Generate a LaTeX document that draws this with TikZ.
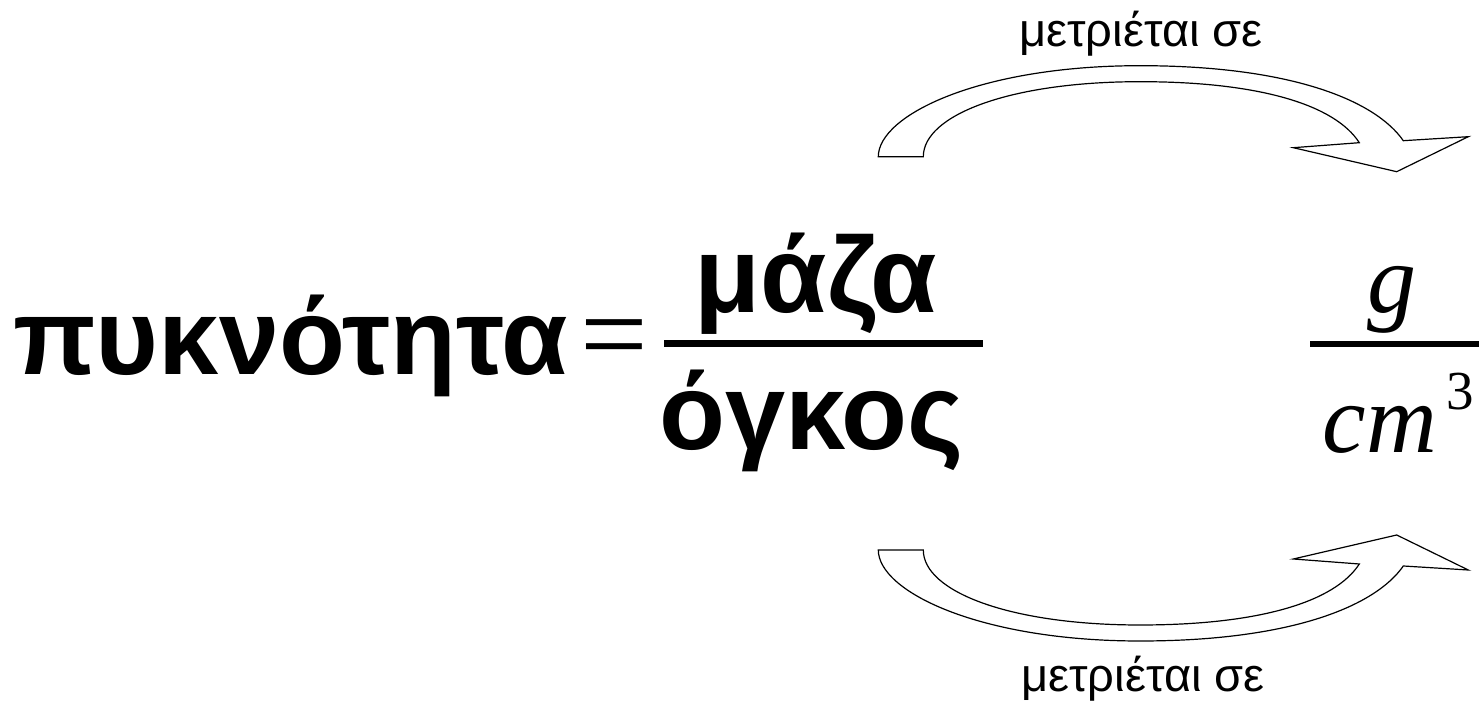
\documentclass[tikz,border=0pt]{standalone}
\usepackage{fontspec}
\setmainfont{Liberation Serif}
\newfontfamily\gsans{Liberation Sans}
\tikzset{
  bigword/.style={font=\gsans\bfseries\fontsize{54}{60}\selectfont, inner sep=0pt, anchor=base},
  eqsign/.style={font=\fontsize{60}{66}\selectfont, inner sep=0pt, anchor=base},
  measlabel/.style={font=\gsans\fontsize{23.5}{28}\selectfont, inner sep=0pt, anchor=base},
  unitvar/.style={font=\itshape\fontsize{49}{54}\selectfont, inner sep=0pt, anchor=base},
  unitexp/.style={font=\fontsize{27.5}{30}\selectfont, inner sep=0pt, anchor=base},
  fracbar/.style={line width=3.3pt},
  blockarrow/.style={draw=black, line width=0.6pt, fill=white, line join=miter}
}
\begin{document}
\begin{tikzpicture}[x=0.5pt,y=-0.5pt]
\useasboundingbox (0,0) rectangle (1479,704);
\fill[white] (0,0) rectangle (1479,704);
% upper bent arrow
\path[blockarrow] (878.3,156.7)
  .. controls (878.3,115) and (980,65.7) .. (1140,65.7)
  .. controls (1290,65.7) and (1375,100) .. (1403.3,140.7)
  -- (1468.3,136.7) -- (1396.7,171.7) -- (1293.3,147.7) -- (1359.3,142.7)
  .. controls (1335,105) and (1260,81.7) .. (1140,81.7)
  .. controls (1010,81.7) and (923.3,115) .. (923.3,156.7)
  -- cycle;
% lower bent arrow
\path[blockarrow] (878.3,550)
  .. controls (878.3,591.7) and (980,641) .. (1140,641)
  .. controls (1290,641) and (1375,606.7) .. (1403.3,566)
  -- (1468.3,570) -- (1396.7,535) -- (1293.3,559) -- (1359.3,564)
  .. controls (1335,601.7) and (1260,625) .. (1140,625)
  .. controls (1010,625) and (923.3,591.7) .. (923.3,550)
  -- cycle;
% labels
\node[measlabel] (toplbl) at (1141,46.7) {μετριέται σε};
\node[measlabel] (botlbl) at (1143,691.7) {μετριέται σε};
% main formula
\node[bigword] (density) at (290.5,375) {πυκνότητα};
\node[eqsign] (eq) at (614.5,375) {=};
\node[bigword] (mass) at (816,313) {μάζα};
\node[bigword] (volume) at (811.5,450) {όγκος};
\draw[fracbar] (664,343.7) -- (982.7,343.7);
% unit
\node[unitvar] (gram) at (1392,313) {g};
\node[unitvar] (cm) at (1380,453) {cm};
\node[unitexp] (cube) at (1460,410) {3};
\draw[fracbar] (1310,344) -- (1479,344);
\end{tikzpicture}
\end{document}
